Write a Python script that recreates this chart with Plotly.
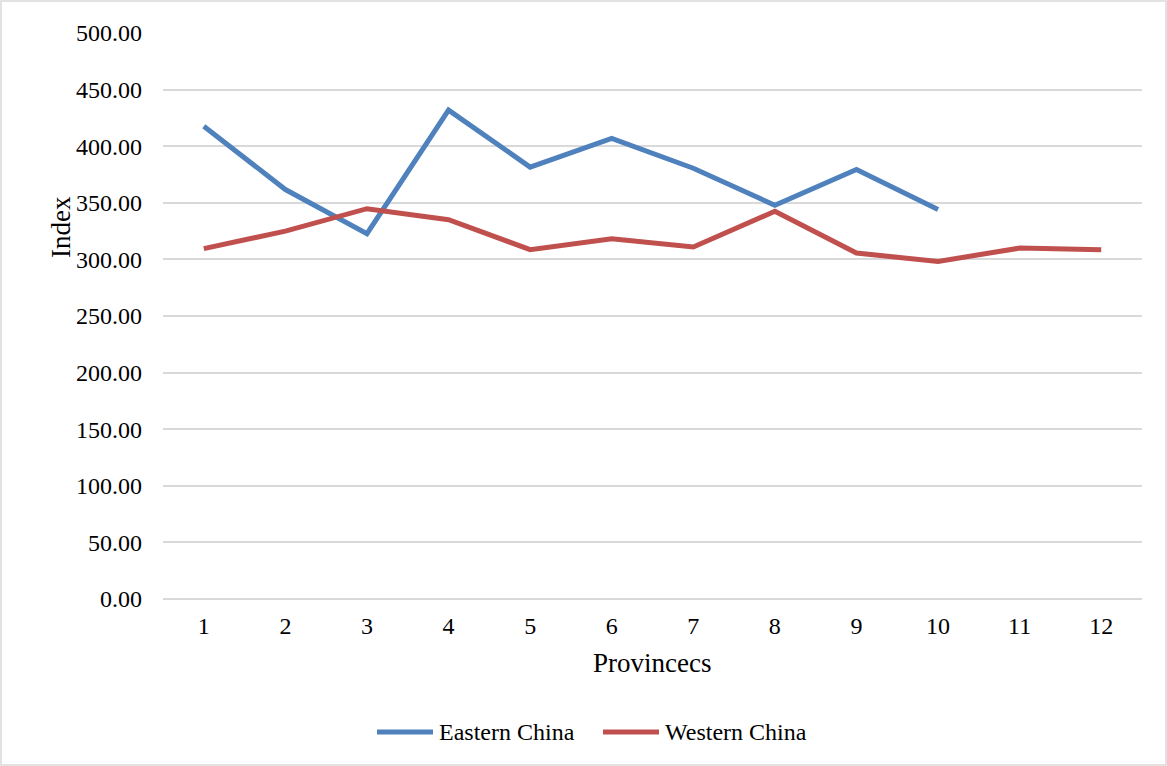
import plotly.graph_objects as go

# Provinces index values
provinces = [str(i) for i in range(1, 13)]
eastern_x = provinces[:10]
eastern_values = [417.7, 361.7, 322.7, 431.9, 381.5, 406.8, 380.5, 347.8, 379.4, 344.0]
western_values = [309.5, 325.0, 344.8, 335.1, 308.6, 318.3, 310.9, 342.5, 305.6, 298.2, 310.0, 308.6]
y_ticks = [0, 50, 100, 150, 200, 250, 300, 350, 400, 450, 500]
series_names = ["Eastern China", "Western China"]
series_colors = ["#4F81BD", "#C0504D"]

W, H = 1167, 766
ML, MR, MT, MB = 163, 25, 33, 167
PW, PH = W - ML - MR, H - MT - MB
FONT = "Liberation Serif, Times New Roman, serif"


def px_x(p):
    return (p - ML) / PW


def px_y(p):
    return (H - MB - p) / PH


fig = go.Figure()
fig.add_trace(go.Scatter(
    x=eastern_x, y=eastern_values, mode="lines", name=series_names[0],
    line=dict(color=series_colors[0], width=5), showlegend=False,
))
fig.add_trace(go.Scatter(
    x=provinces, y=western_values, mode="lines", name=series_names[1],
    line=dict(color=series_colors[1], width=5), showlegend=False,
))

shapes = [
    # light border around the whole chart
    dict(type="rect", xref="paper", yref="paper",
         x0=px_x(1), x1=px_x(W - 1), y0=px_y(H - 1), y1=px_y(1),
         line=dict(color="#D9D9D9", width=1.5), layer="below"),
]
annotations = [
    dict(text="Index", xref="paper", yref="paper", x=px_x(61), y=px_y(227),
         xanchor="center", yanchor="middle", textangle=-90, showarrow=False,
         font=dict(family=FONT, size=27, color="black")),
    dict(text="Provincecs", xref="paper", yref="paper", x=px_x(652), y=px_y(663),
         xanchor="center", yanchor="middle", showarrow=False,
         font=dict(family=FONT, size=27, color="black")),
]

# legend row below the axis title
legend_items = [(377, 433, 437), (603, 659, 663)]
for (lx0, lx1, tx), name, color in zip(legend_items, series_names, series_colors):
    shapes.append(dict(type="line", xref="paper", yref="paper",
                       x0=px_x(lx0), x1=px_x(lx1), y0=px_y(732), y1=px_y(732),
                       line=dict(color=color, width=5)))
    annotations.append(dict(text=name, xref="paper", yref="paper", x=px_x(tx), y=px_y(732),
                            xanchor="left", yanchor="middle", showarrow=False,
                            font=dict(family=FONT, size=24, color="black")))

fig.update_layout(
    width=W, height=H,
    margin=dict(l=ML, r=MR, t=MT, b=MB),
    paper_bgcolor="white", plot_bgcolor="white",
    font=dict(family=FONT, size=24, color="black"),
    showlegend=False,
    shapes=shapes,
    annotations=annotations,
    xaxis=dict(
        type="category", categoryorder="array", categoryarray=provinces,
        range=[-0.5, 11.5], showgrid=False, zeroline=False,
        showline=False, ticks="", ticklabelstandoff=10, tickfont=dict(size=24),
    ),
    yaxis=dict(
        range=[0, 500], tickvals=y_ticks, tickformat=".2f",
        showgrid=True, gridcolor="#D9D9D9", gridwidth=1.5,
        zeroline=True, zerolinecolor="#D9D9D9", zerolinewidth=1.5,
        showline=False, ticks="", ticklabelstandoff=20, tickfont=dict(size=24),
    ),
)

fig.write_html("out.html")
